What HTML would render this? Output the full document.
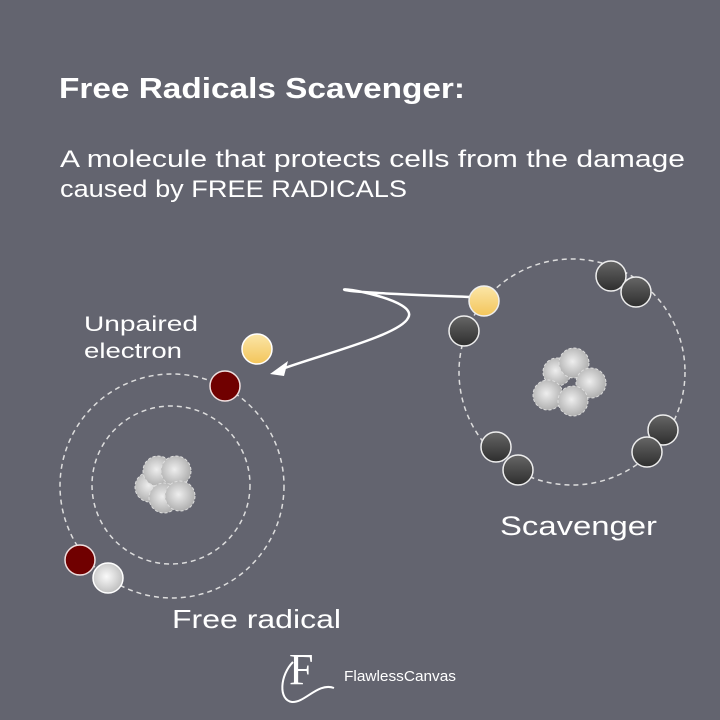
<!DOCTYPE html>
<html><head><meta charset="utf-8"><style>
html,body{margin:0;padding:0;background:#63646f;}
svg{display:block}
text{font-family:"Liberation Sans",sans-serif;fill:#fff}
</style></head><body>
<svg width="720" height="720" viewBox="0 0 720 720">
<defs>
<radialGradient id="nuc" cx="45%" cy="45%" r="60%"><stop offset="0" stop-color="#eee"/><stop offset="1" stop-color="#aaa"/></radialGradient>
<linearGradient id="yel" x1="0" y1="0" x2="0" y2="1"><stop offset="0" stop-color="#fbe6a8"/><stop offset="1" stop-color="#f3c55a"/></linearGradient>
<linearGradient id="drk" x1="0" y1="0" x2="0" y2="1"><stop offset="0" stop-color="#666"/><stop offset="1" stop-color="#2e2e2e"/></linearGradient>
<radialGradient id="wht" cx="45%" cy="45%" r="60%"><stop offset="0" stop-color="#fafafa"/><stop offset="1" stop-color="#bbb"/></radialGradient>
</defs>
<rect width="720" height="720" fill="#63646f"/>
<text x="59" y="98" font-size="29" font-weight="600" textLength="406" lengthAdjust="spacingAndGlyphs">Free Radicals Scavenger:</text>
<text x="60" y="167" font-size="24" textLength="625" lengthAdjust="spacingAndGlyphs">A molecule that protects cells from the damage</text>
<text x="60" y="197" font-size="24" textLength="347" lengthAdjust="spacingAndGlyphs">caused by FREE RADICALS</text>

<g fill="none" stroke="#ddd" stroke-width="1.5" stroke-dasharray="5 4">
<circle cx="172" cy="486" r="112"/>
<circle cx="171" cy="485" r="79"/>
<circle cx="572" cy="372" r="113"/>
</g>
<g stroke="#ddd" stroke-width="1" stroke-dasharray="3 2" fill="url(#nuc)">
<circle cx="150" cy="487" r="15"/><circle cx="158" cy="471" r="15"/><circle cx="176" cy="471" r="15"/><circle cx="164" cy="498" r="15"/><circle cx="180" cy="496" r="15"/>
<circle cx="557" cy="372" r="14"/><circle cx="574" cy="363" r="15"/><circle cx="591" cy="383" r="15"/><circle cx="548" cy="395" r="15"/><circle cx="573" cy="401" r="15"/>
</g>
<text x="84" y="331" font-size="21" textLength="114" lengthAdjust="spacingAndGlyphs">Unpaired</text>
<text x="84" y="358" font-size="21" textLength="98" lengthAdjust="spacingAndGlyphs">electron</text>
<path d="M470 297 C420 295 360 293 345 290 C335 286 420 300 408 318 C400 335 320 355 282 369" fill="none" stroke="#fff" stroke-width="2.5"/>
<polygon points="270,374 288,361 284,376" fill="#fff"/>
<g stroke="#f0e0e0" stroke-width="1.5">
<circle cx="257" cy="349" r="15" fill="url(#yel)" stroke="#fff"/>
<circle cx="225" cy="386" r="15" fill="#700000"/>
<circle cx="80" cy="560" r="15" fill="#700000"/>
<circle cx="108" cy="578" r="15" fill="url(#wht)" stroke="#fff"/>
</g>
<g stroke="#eee" stroke-width="1.5" fill="url(#drk)">
<circle cx="464" cy="331" r="15"/>
<circle cx="611" cy="276" r="15"/><circle cx="636" cy="292" r="15"/>
<circle cx="663" cy="430" r="15"/><circle cx="647" cy="452" r="15"/>
<circle cx="496" cy="447" r="15"/><circle cx="518" cy="470" r="15"/>
<circle cx="484" cy="301" r="15" fill="url(#yel)"/>
</g>
<text x="500" y="535" font-size="27" textLength="157" lengthAdjust="spacingAndGlyphs">Scavenger</text>
<text x="172" y="628" font-size="26" textLength="169" lengthAdjust="spacingAndGlyphs">Free radical</text>
<text x="289" y="684" font-size="44" style="font-family:'Liberation Serif',serif">F</text>
<path d="M293 662 C280 675 278 700 292 702 C305 703 318 682 334 688" fill="none" stroke="#fff" stroke-width="2"/>
<text x="344" y="681" font-size="15" textLength="112" lengthAdjust="spacingAndGlyphs">FlawlessCanvas</text>
</svg>
</body></html>
